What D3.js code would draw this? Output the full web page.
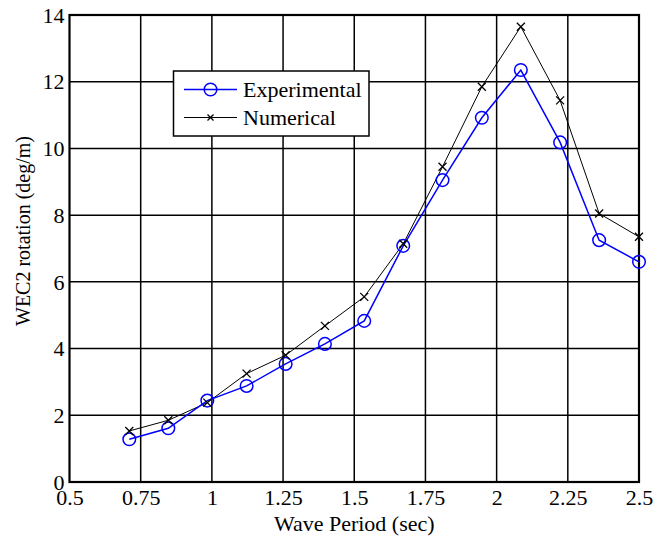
<!DOCTYPE html>
<html><head><meta charset="utf-8">
<script src="https://cdn.jsdelivr.net/npm/d3@7"></script>
<style>body{margin:0;background:#fff}svg{display:block}</style>
</head><body>
<svg id="c" width="656" height="547"></svg>
<script>
const periods = [0.71, 0.847, 0.984, 1.122, 1.259, 1.397, 1.535, 1.672, 1.81, 1.948, 2.085, 2.223, 2.36, 2.5];
const experimental = [1.28, 1.61, 2.44, 2.88, 3.54, 4.14, 4.83, 7.08, 9.05, 10.92, 12.35, 10.18, 7.25, 6.6];
const numerical = [1.53, 1.85, 2.38, 3.25, 3.8, 4.68, 5.55, 7.14, 9.45, 11.85, 13.65, 11.44, 8.05, 7.35];
const xTicks = [0.5, 0.75, 1, 1.25, 1.5, 1.75, 2, 2.25, 2.5];
const xTickLabels = ["0.5", "0.75", "1", "1.25", "1.5", "1.75", "2", "2.25", "2.5"];
const yTicks = [0, 2, 4, 6, 8, 10, 12, 14];
const seriesNames = ["Experimental", "Numerical"];

const FONT = '"Liberation Serif","Times New Roman",Times,serif';
const svg = d3.select("#c");
const L = 69.5, R = 639, T = 15, B = 482;
const x = d3.scaleLinear().domain([0.5, 2.5]).range([L, R]);
const y = d3.scaleLinear().domain([0, 14]).range([B, T]);

// grid
const g = svg.append("g");
g.selectAll(".vx").data(xTicks.slice(1, -1)).enter().append("line")
  .attr("x1", d => x(d)).attr("x2", d => x(d)).attr("y1", T).attr("y2", B)
  .attr("stroke", "#000").attr("stroke-width", 1.5);
g.selectAll(".hy").data(yTicks.slice(1, -1)).enter().append("line")
  .attr("y1", d => y(d)).attr("y2", d => y(d)).attr("x1", L).attr("x2", R)
  .attr("stroke", "#000").attr("stroke-width", 1.5);

// axes labels
const xa = svg.append("g").attr("transform", `translate(0,${B})`)
  .call(d3.axisBottom(x).tickValues(xTicks).tickFormat((d, i) => xTickLabels[i]).tickSize(0).tickPadding(9));
const ya = svg.append("g").attr("transform", `translate(${L},0)`)
  .call(d3.axisLeft(y).tickValues(yTicks).tickSize(0).tickPadding(5));
[xa, ya].forEach(a => {
  a.attr("font-family", FONT).attr("font-size", 22);
  a.select(".domain").remove();
  a.selectAll("text").attr("fill", "#000");
});
xa.selectAll("text").attr("dy", "0.65em");
ya.selectAll("text").attr("dy", "0.33em");

// frame
svg.append("rect").attr("x", L).attr("y", T).attr("width", R - L).attr("height", B - T)
  .attr("fill", "none").attr("stroke", "#000").attr("stroke-width", 2.2);

// lines
const line = d3.line().x((d, i) => x(periods[i])).y(d => y(d));
svg.append("path").datum(numerical).attr("d", line).attr("fill", "none").attr("stroke", "#000").attr("stroke-width", 1);
svg.append("path").datum(experimental).attr("d", line).attr("fill", "none").attr("stroke", "#0000ff").attr("stroke-width", 1.5);

svg.selectAll(".cm").data(experimental).enter().append("circle")
  .attr("cx", (d, i) => x(periods[i])).attr("cy", d => y(d)).attr("r", 6.3)
  .attr("fill", "none").attr("stroke", "#0000ff").attr("stroke-width", 1.5);
const s = 4;
svg.selectAll(".xm").data(numerical).enter().append("path")
  .attr("d", (d, i) => { const cx = x(periods[i]), cy = y(d); return `M${cx-s},${cy-s}L${cx+s},${cy+s}M${cx-s},${cy+s}L${cx+s},${cy-s}`; })
  .attr("stroke", "#000").attr("stroke-width", 1.3);

// legend
const lg = svg.append("g").attr("font-family", FONT);
lg.append("rect").attr("x", 173.5).attr("y", 71).attr("width", 195.5).attr("height", 65)
  .attr("fill", "#fff").attr("stroke", "#000").attr("stroke-width", 1.5);
const ly = [89.5, 117.5];
lg.append("line").attr("x1", 184).attr("x2", 237).attr("y1", ly[0]).attr("y2", ly[0]).attr("stroke", "#0000ff").attr("stroke-width", 1.5);
lg.append("circle").attr("cx", 210.5).attr("cy", ly[0]).attr("r", 6.3).attr("fill", "none").attr("stroke", "#0000ff").attr("stroke-width", 1.5);
lg.append("line").attr("x1", 184).attr("x2", 237).attr("y1", ly[1]).attr("y2", ly[1]).attr("stroke", "#000").attr("stroke-width", 1);
lg.append("path").attr("d", `M${210.5-3},${ly[1]-3}L${210.5+3},${ly[1]+3}M${210.5-3},${ly[1]+3}L${210.5+3},${ly[1]-3}`).attr("stroke", "#000").attr("stroke-width", 1.3);
lg.selectAll(".lt").data(seriesNames).enter().append("text")
  .attr("x", 243).attr("y", (d, i) => ly[i]).attr("dy", "0.33em").attr("font-size", 22).text(d => d);

// titles
svg.append("text").attr("x", (L + R) / 2).attr("y", 524).attr("dy", "0.33em").attr("text-anchor", "middle")
  .attr("font-family", FONT).attr("font-size", 22).text("Wave Period (sec)");
svg.append("text").attr("transform", `translate(23,231) rotate(-90)`).attr("dy", "0.33em").attr("text-anchor", "middle")
  .attr("font-family", FONT).attr("font-size", 20).text("WEC2 rotation (deg/m)");
</script>
</body></html>
